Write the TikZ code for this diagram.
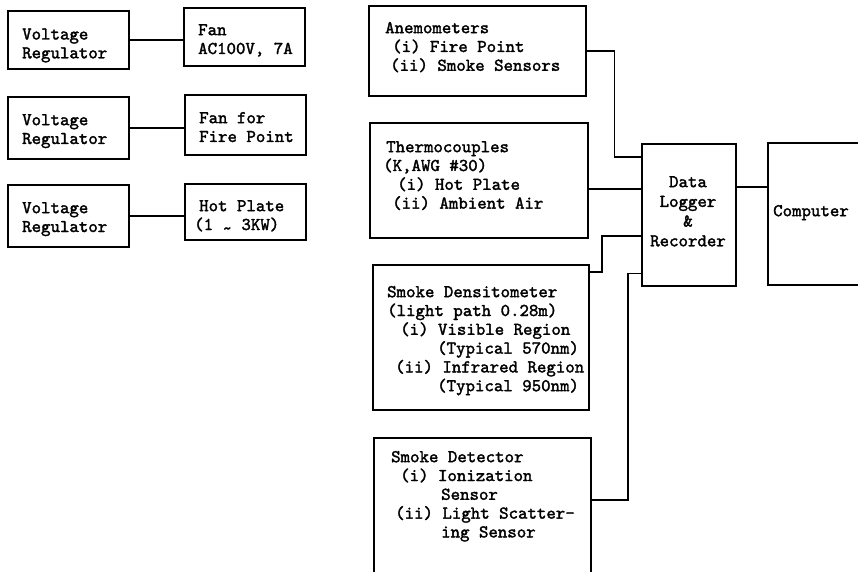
\documentclass[tikz,border=0pt]{standalone}
\usepackage{fontspec}
\newfontfamily\monofnt{lmmono10-regular.otf}[RawFeature={embolden=1.8}]
\newcommand\tfnt{\fontsize{18}{18.8}\selectfont\monofnt}
\newcommand\dfnt{\fontsize{18}{19.7}\selectfont\monofnt}
\tikzset{
  box/.style={draw, line width=1.6pt, anchor=north west, inner sep=0pt},
  txt/.style={anchor=north west, inner sep=0pt, align=left, font=\tfnt, yshift=13.16pt},
  ctxt/.style={anchor=north, inner sep=0pt, align=center, font=\dfnt, yshift=13.79pt},
  wire/.style={line width=1.6pt}
}
\begin{document}
\begin{tikzpicture}[x=1pt,y=-1pt]
\useasboundingbox (0,0) rectangle (858,572);
\clip (0,0) rectangle (858,572);
\fill[white] (0,0) rectangle (858,572);

% left column
\node[box, minimum width=121pt, minimum height=58pt] (vr1) at (7,10) {};
\node[box, minimum width=121pt, minimum height=58pt] (fan1) at (183,7) {};
\node[box, minimum width=121pt, minimum height=62pt] (vr2) at (7,96) {};
\node[box, minimum width=121pt, minimum height=60pt] (fan2) at (184,94) {};
\node[box, minimum width=121pt, minimum height=62pt] (vr3) at (7,184) {};
\node[box, minimum width=121pt, minimum height=56pt] (hot) at (184,183) {};

\node[txt] (vr1t) at (22,39.3) {\strut Voltage\\Regulator};
\node[txt] (fan1t) at (198,35) {\strut Fan\\AC100V, 7A};
\node[txt] (vr2t) at (22,125) {\strut Voltage\\Regulator};
\node[txt] (fan2t) at (199,123) {\strut Fan for\\Fire Point};
\node[txt] (vr3t) at (22,213) {\strut Voltage\\Regulator};
\node[txt] (hott) at (194,211) {\strut\hspace*{5pt}Hot Plate\\(1 \raisebox{-0.22em}{\textasciitilde} 3KW)};

\draw[wire] (vr1.east) -- (vr1.east -| fan1.west);
\draw[wire] (vr2.east) -- (vr2.east -| fan2.west);
\draw[wire] (vr3.east) -- (vr3.east -| hot.west);

% right part
\node[box, minimum width=217pt, minimum height=90pt] (anem) at (368,5) {};
\node[box, minimum width=218pt, minimum height=115pt] (thermo) at (369,122) {};
\node[box, minimum width=216pt, minimum height=145pt] (dens) at (372,264) {};
\node[box, minimum width=217pt, minimum height=170pt] (det) at (373,437) {};
\node[box, minimum width=94pt, minimum height=142pt] (dl) at (641,143) {};
\node[box, minimum width=130pt, minimum height=142pt] (comp) at (767,142) {};

\node[txt] (anemt) at (385,33) {\strut Anemometers\\\hspace*{7pt}(i) Fire Point\\\hspace*{5pt}(ii) Smoke Sensors};
\node[txt] (thermot) at (383,152) {\strut\hspace*{3pt}Thermocouples\\(K,AWG \#30)\\\hspace*{14pt}(i) Hot Plate\\\hspace*{9pt}(ii) Ambient Air};
\node[txt] (denst) at (387,297) {\strut Smoke Densitometer\\(light path 0.28m)\\\hspace*{13pt}(i) Visible Region\\\hspace*{50pt}(Typical 570nm)\\\hspace*{8pt}(ii) Infrared Region\\\hspace*{50pt}(Typical 950nm)};
\node[txt] (dett) at (391,462) {\strut Smoke Detector\\\hspace*{9pt}(i) Ionization\\\hspace*{50pt}Sensor\\\hspace*{4pt}(ii) Light Scatter-\\\hspace*{50pt}ing Sensor};
\node[ctxt] (dlt) at (688,187) {\strut Data\\Logger\\\&\\Recorder};
\node[txt] (compt) at (773,216) {\strut Computer};

\coordinate (ain) at ([yshift=-14pt]dl.north west);
\coordinate (tin) at ([yshift=-46pt]dl.north west);
\coordinate (din) at ([yshift=-93pt]dl.north west);
\coordinate (dout) at ([yshift=-8pt]dens.north east);
\coordinate (ein) at ([yshift=13pt]dl.south west);
\coordinate (eout) at ([yshift=-63pt]det.north east);
\coordinate (cout) at ([yshift=-44pt]dl.north east);

\draw[wire] (anem.east) -- ++(28,0) |- (ain);
\draw[wire] (tin) -- (tin -| thermo.east);
\draw[wire] (din) -- ++(-39,0) |- (dout);
\draw[wire] (ein) -- ++(-13,0) |- (eout);
\draw[wire] (cout) -- (cout -| comp.west);
\end{tikzpicture}
\end{document}
